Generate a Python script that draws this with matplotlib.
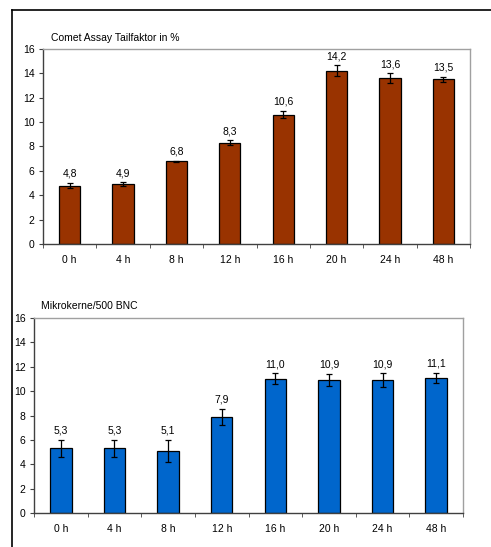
import matplotlib
matplotlib.use('Agg')
import matplotlib.pyplot as plt
from matplotlib.lines import Line2D
import numpy as np

plt.rcParams['font.family'] = ['Liberation Sans', 'DejaVu Sans']

# Data
zeiten = ['0 h', '4 h', '8 h', '12 h', '16 h', '20 h', '24 h', '48 h']
comet_werte = [4.8, 4.9, 6.8, 8.3, 10.6, 14.2, 13.6, 13.5]
comet_fehler = [0.2, 0.15, 0.05, 0.2, 0.3, 0.45, 0.4, 0.2]
mikro_werte = [5.3, 5.3, 5.1, 7.9, 11.0, 10.9, 10.9, 11.1]
mikro_fehler = [0.7, 0.7, 0.9, 0.65, 0.45, 0.5, 0.55, 0.4]

W, H = 491, 547
fig = plt.figure(figsize=(W / 100, H / 100), dpi=100)
fig.patch.set_facecolor('white')

# outer frame: only left and top line
fig.add_artist(Line2D([11.5 / W, 11.5 / W], [0, 1 - 9.5 / H], color='black', lw=1.2))
fig.add_artist(Line2D([11.5 / W, 1], [1 - 9.5 / H, 1 - 9.5 / H], color='black', lw=1.2))


def draw_panel(rect, werte, fehler, farbe, titel, titel_xy):
    ax = fig.add_axes(rect)
    x = np.arange(len(zeiten))
    ax.bar(x, werte, width=0.40, color=farbe, edgecolor='black', linewidth=0.9, zorder=2)
    ax.errorbar(x, werte, yerr=fehler, fmt='none', ecolor='black', elinewidth=0.9,
                capsize=2.5, capthick=0.9, zorder=3)
    for xi, v, e in zip(x, werte, fehler):
        ax.annotate(f'{v:.1f}'.replace('.', ','), (xi, v + e), xytext=(0, 3),
                    textcoords='offset points', ha='center', va='bottom', fontsize=7.5)
    ax.set_xlim(-0.5, len(zeiten) - 0.5)
    ax.set_ylim(0, 16)
    ax.set_yticks(range(0, 17, 2))
    ax.set_xticks(x)
    ax.set_xticklabels(zeiten)
    ax.set_xticks(np.arange(-0.5, len(zeiten)), minor=True)
    ax.tick_params(axis='x', which='major', length=0, pad=8, labelsize=7.5)
    ax.tick_params(axis='x', which='minor', length=3, direction='out', color='#404040')
    ax.tick_params(axis='y', length=3, direction='out', labelsize=7.5, pad=3, color='#404040')
    for s in ['top', 'right']:
        ax.spines[s].set_color('#a0a0a0')
        ax.spines[s].set_linewidth(1.0)
    for s in ['left', 'bottom']:
        ax.spines[s].set_color('#404040')
        ax.spines[s].set_linewidth(1.0)
    fig.text(titel_xy[0] / W, 1 - titel_xy[1] / H, titel, fontsize=7.5, ha='left', va='center')
    return ax


draw_panel([43 / W, 1 - 244 / H, 427 / W, 195 / H], comet_werte, comet_fehler,
           '#993300', 'Comet Assay Tailfaktor in %', (51, 38))
draw_panel([34 / W, 1 - 513 / H, 429 / W, 195 / H], mikro_werte, mikro_fehler,
           '#0066CC', 'Mikrokerne/500 BNC', (41, 306))

fig.savefig('out.png', dpi=100)
